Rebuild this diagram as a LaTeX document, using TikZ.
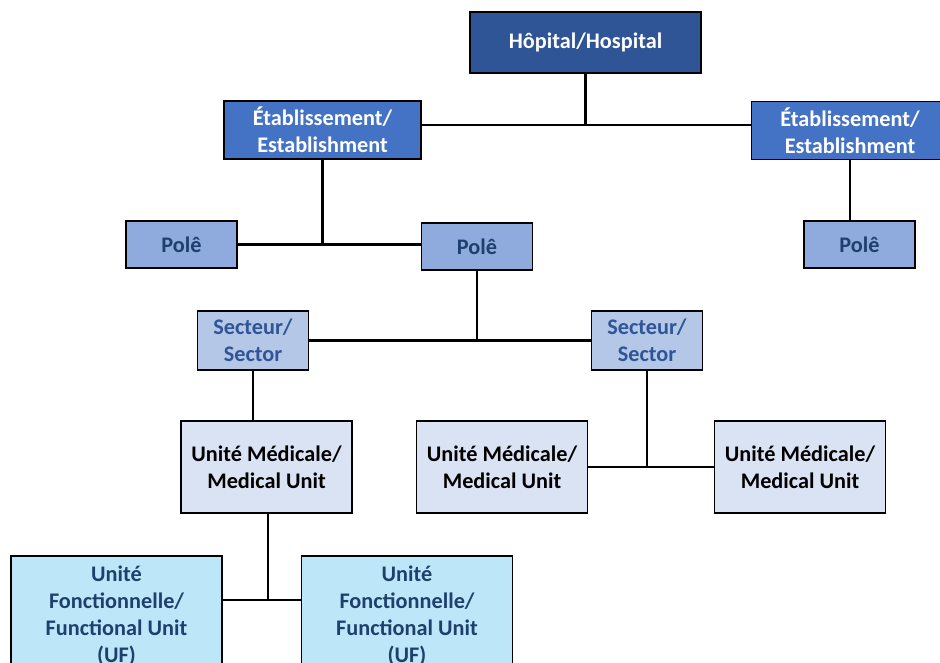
\documentclass[tikz,border=0pt]{standalone}
\usepackage{fontspec}
\setmainfont{Carlito}
\usetikzlibrary{arrows.meta}

\definecolor{hospblue}{HTML}{2F5597}
\definecolor{etabblue}{HTML}{4472C4}
\definecolor{poleblue}{HTML}{8FAADC}
\definecolor{sectblue}{HTML}{B4C7E7}
\definecolor{umblue}{HTML}{DAE3F3}
\definecolor{ufblue}{HTML}{BDE7F8}
\definecolor{navytext}{HTML}{1F3F6E}
\definecolor{secttext}{HTML}{2F5597}

\begin{document}
\begin{tikzpicture}[
    x=0.03cm, y=-0.03cm,
    box/.style={rectangle, draw=black, line width=1.6pt, inner sep=0pt, align=center,
                font=\bfseries\fontsize{19pt}{23pt}\selectfont},
    hospbox/.style={box, fill=hospblue, text=white, minimum width=6.93cm, minimum height=1.83cm},
    etabbox/.style={box, fill=etabblue, text=white, minimum width=5.91cm, minimum height=1.74cm},
    polebox/.style={box, fill=poleblue, text=navytext, minimum width=3.33cm, minimum height=1.41cm},
    sectbox/.style={box, fill=sectblue, text=secttext, minimum width=3.33cm, minimum height=1.77cm},
    umbox/.style={box, fill=umblue, text=black, minimum width=5.13cm, minimum height=2.76cm},
    ufbox/.style={box, fill=ufblue, text=navytext, minimum width=6.33cm, minimum height=3.6cm},
    line/.style={line width=1.8pt},
  ]
  \useasboundingbox (0,0) rectangle (940,662);
  \begin{scope}
  \clip (0,0) rectangle (940,662);

  \node[hospbox] (hosp) at (585.5,42.5) {Hôpital/Hospital};

  \node[etabbox] (etabL) at (322.5,130) {Établissement/\\Establishment};
  \node[etabbox] (etabR) at (850,130.5) {Établissement/\\Establishment};

  \node[polebox] (poleL) at (181.5,244.5) {Polê};
  \node[polebox] (poleM) at (477,246.5) {Polê};
  \node[polebox] (poleR) at (859.5,244.5) {Polê};

  \node[sectbox] (sectL) at (253,340.5) {Secteur/\\Sector};
  \node[sectbox] (sectR) at (647,340.5) {Secteur/\\Sector};

  \node[umbox] (umL) at (266.5,467) {Unité Médicale/\\Medical Unit};
  \node[umbox] (umM) at (502,467) {Unité Médicale/\\Medical Unit};
  \node[umbox] (umR) at (800,467) {Unité Médicale/\\Medical Unit};

  \node[ufbox] (ufL) at (116.5,616) {Unité\\Fonctionnelle/\\Functional Unit\\(UF)};
  \node[ufbox] (ufR) at (407,616) {Unité\\Fonctionnelle/\\Functional Unit\\(UF)};

  \coordinate (hospbus) at (585.5,125);
  \coordinate (ufbus) at (268,600);

  % hospital to establishments
  \draw[line] (hosp.south) -- (hospbus);
  \draw[line] (etabL.east |- hospbus) -- (etabR.west |- hospbus);

  % establishments to poles
  \draw[line] (etabL.south) -- (etabL.south |- poleL.east);
  \draw[line] (poleL.east) -- (poleL.east -| poleM.west);
  \draw[line] (etabR.south) -- (etabR.south |- poleR.north);

  % pole to sectors
  \draw[line] (poleM.south) -- (poleM.south |- sectL.east);
  \draw[line] (sectL.east) -- (sectR.west);

  % sectors to medical units
  \draw[line] (sectL.south) -- (sectL.south |- umL.north);
  \draw[line] (sectR.south) -- (sectR.south |- umM.east);
  \draw[line] (umM.east) -- (umR.west);

  % medical unit to functional units
  \draw[line] (umL.south -| ufbus) -- (ufbus);
  \draw[line] (ufL.east |- ufbus) -- (ufR.west |- ufbus);
  \end{scope}

\end{tikzpicture}
\end{document}
